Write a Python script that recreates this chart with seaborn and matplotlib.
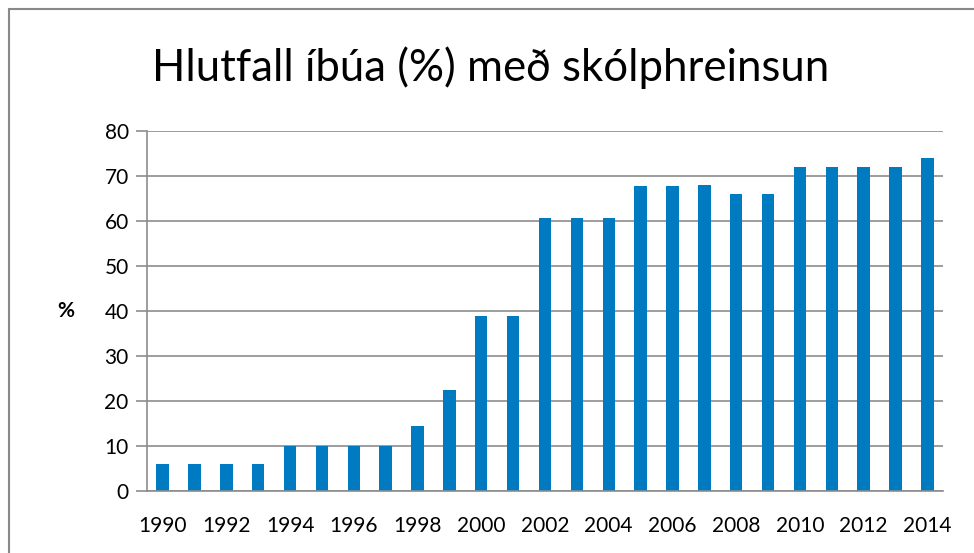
import matplotlib
matplotlib.use("Agg")
import matplotlib.pyplot as plt
import seaborn as sns
import pandas as pd
from matplotlib.lines import Line2D

years = [str(y) for y in range(1990, 2015)]
values = [6, 6, 6, 6, 10, 10, 10, 10, 14.5, 22.4, 38.9, 38.9, 60.7, 60.7, 60.7,
          67.8, 67.8, 68.1, 65.9, 65.9, 71.9, 71.9, 71.9, 71.9, 73.9]
title = "Hlutfall íbúa (%) með skólphreinsun"
ylabel = "%"
yticks = [0, 10, 20, 30, 40, 50, 60, 70, 80]

sns.set_theme(style="white")
plt.rcParams['font.family'] = ['Lato', 'DejaVu Sans']

df = pd.DataFrame({"year": years, "value": values})

fig = plt.figure(figsize=(9.74, 5.53), dpi=100)
ax = fig.add_axes([146.7/974, 1-490.7/553, (943.3-146.7)/974, (490.7-131)/553])

sns.barplot(data=df, x="year", y="value", color="#007AC0", width=0.39,
            saturation=1, ax=ax, edgecolor="none")

grid_c = "#8C8C8C"
ax.set_ylim(0, 80)
ax.set_xlim(-0.5, len(years) - 0.5)
ax.set_yticks(yticks)
ax.set_yticklabels([str(t) for t in yticks], fontsize=15, color="black")
ax.yaxis.grid(True, color=grid_c, linewidth=1.2)
ax.set_axisbelow(True)

major = list(range(0, len(years), 2))
ax.set_xticks(major)
ax.set_xticklabels([years[i] for i in major], fontsize=15, color="black")
ax.set_xticks([i - 0.5 for i in range(len(years) + 1)], minor=True)
ax.tick_params(axis="x", which="major", length=0, pad=18)
ax.tick_params(axis="x", which="minor", length=7, width=1.2, color=grid_c, direction="out")
ax.tick_params(axis="y", which="major", length=8, width=1.2, color=grid_c, direction="out", pad=5)
ax.tick_params(left=True, bottom=True)
ax.tick_params(axis="x", which="major", bottom=False)

for s in ["top", "right"]:
    ax.spines[s].set_visible(False)
for s in ["left", "bottom"]:
    ax.spines[s].set_color(grid_c)
    ax.spines[s].set_linewidth(1.2)

ax.set_xlabel("")
ax.set_ylabel(ylabel, rotation=0, fontsize=15, fontweight="bold", color="black",
              labelpad=28, va="center")

fig.text(491/974, 1-68/553, title, ha="center", va="center", fontsize=31.5, color="black")

# outer border (top and left visible)
fig.add_artist(Line2D([8.5/974, 1.0], [1-8.5/553, 1-8.5/553], color="#888888", linewidth=1.5, transform=fig.transFigure))
fig.add_artist(Line2D([8.5/974, 8.5/974], [0, 1-8.5/553], color="#888888", linewidth=1.5, transform=fig.transFigure))

fig.savefig("out.png", dpi=100)
